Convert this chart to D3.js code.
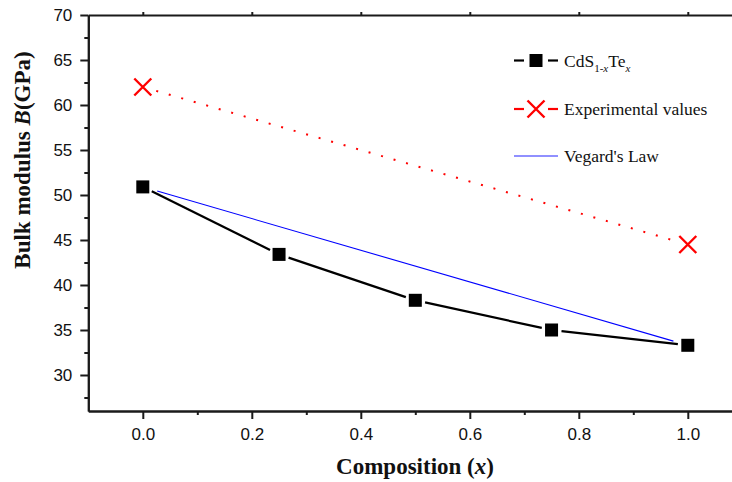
<!DOCTYPE html>
<html>
<head>
<meta charset="utf-8">
<script src="https://cdn.jsdelivr.net/npm/d3@7"></script>
<style>
  html, body { margin: 0; padding: 0; background: #fff; }
  svg { display: block; }
  .tick text { font-family: "Liberation Sans", Arial, sans-serif; font-size: 17px; fill: #111; }
</style>
</head>
<body>
<svg id="chart" width="732" height="482"></svg>
<script>
// Bulk modulus of CdS(1-x)Te(x) versus composition
const composition = [0, 0.25, 0.5, 0.75, 1.0];
const bulkCalc = [50.9, 43.4, 38.3, 35.0, 33.3];
const expComposition = [0, 1.0];
const bulkExp = [62.0, 44.5];
const vegardComposition = [0, 1.0];
const bulkVegard = [50.9, 33.3];
const xTicks = [0, 0.2, 0.4, 0.6, 0.8, 1.0];
const xMinorTicks = [0.1, 0.3, 0.5, 0.7, 0.9];
const yTicks = [30, 35, 40, 45, 50, 55, 60, 65, 70];
const yMinorTicks = [27.5, 32.5, 37.5, 42.5, 47.5, 52.5, 57.5, 62.5, 67.5];

const svg = d3.select("#chart");
const plotLeft = 88.3, plotRight = 742.3, plotTop = 15, plotBottom = 411;

const x = d3.scaleLinear().domain([-0.1, 1.1]).range([plotLeft, plotRight]);
const y = d3.scaleLinear().domain([26, 70]).range([plotBottom, plotTop]);

const axisColor = "#1a1a1a";

function styleAxis(g) {
  g.selectAll("path.domain").attr("stroke", axisColor).attr("stroke-width", 2);
  g.selectAll(".tick line").attr("stroke", axisColor).attr("stroke-width", 2);
}

// bottom axis
const gx = svg.append("g").attr("transform", `translate(0,${plotBottom})`)
  .call(d3.axisBottom(x).tickValues(xTicks).tickSize(8).tickSizeOuter(0)
    .tickPadding(6).tickFormat(d3.format(".1f")));
styleAxis(gx);
gx.selectAll(".tick text").attr("dy", "0.9em");
const gxm = svg.append("g").attr("transform", `translate(0,${plotBottom})`)
  .call(d3.axisBottom(x).tickValues(xMinorTicks).tickSize(4).tickSizeOuter(0).tickFormat(""));
styleAxis(gxm);

// top frame
const gt = svg.append("g").attr("transform", `translate(0,${plotTop})`)
  .call(d3.axisTop(x).tickValues(xTicks).tickSize(3).tickSizeOuter(0).tickFormat(""));
styleAxis(gt);

// left axis
const gy = svg.append("g").attr("transform", `translate(${plotLeft},0)`)
  .call(d3.axisLeft(y).tickValues(yTicks).tickSize(8).tickSizeOuter(0).tickPadding(8));
styleAxis(gy);
const gym = svg.append("g").attr("transform", `translate(${plotLeft},0)`)
  .call(d3.axisLeft(y).tickValues(yMinorTicks).tickSize(4).tickSizeOuter(0).tickFormat(""));
styleAxis(gym);

// trims a segment between two pixel points by a gap at each end
function trimmed(p0, p1, gap) {
  const dx = p1[0] - p0[0], dy = p1[1] - p0[1];
  const len = Math.hypot(dx, dy);
  const ux = dx / len, uy = dy / len;
  return [[p0[0] + ux * gap, p0[1] + uy * gap], [p1[0] - ux * gap, p1[1] - uy * gap]];
}

// Vegard's law
const vp = vegardComposition.map((c, i) => [x(c), y(bulkVegard[i])]);
const vt = trimmed(vp[0], vp[1], 15);
svg.append("line")
  .attr("x1", vt[0][0]).attr("y1", vt[0][1]).attr("x2", vt[1][0]).attr("y2", vt[1][1])
  .attr("stroke", "#0000ff").attr("stroke-width", 1.1);

// experimental values: dotted link
const ep = expComposition.map((c, i) => [x(c), y(bulkExp[i])]);
const et = trimmed(ep[0], ep[1], 14);
svg.append("line")
  .attr("x1", et[0][0]).attr("y1", et[0][1]).attr("x2", et[1][0]).attr("y2", et[1][1])
  .attr("stroke", "#ff0000").attr("stroke-width", 2).attr("stroke-dasharray", "2 11");

// calculated values: segments with gaps around the symbols
const cp = composition.map((c, i) => [x(c), y(bulkCalc[i])]);
for (let i = 0; i < cp.length - 1; i++) {
  const s = trimmed(cp[i], cp[i + 1], 10);
  svg.append("line")
    .attr("x1", s[0][0]).attr("y1", s[0][1]).attr("x2", s[1][0]).attr("y2", s[1][1])
    .attr("stroke", "#000").attr("stroke-width", 2.2);
}
const sq = 13;
svg.selectAll("rect.calc").data(composition).join("rect")
  .attr("class", "calc")
  .attr("x", (d) => x(d) - sq / 2)
  .attr("y", (d, i) => y(bulkCalc[i]) - sq / 2)
  .attr("width", sq).attr("height", sq).attr("fill", "#000");

// experimental symbols
function cross(g, cx, cy, r) {
  g.append("path")
    .attr("d", `M${cx - r},${cy - r}L${cx + r},${cy + r}M${cx - r},${cy + r}L${cx + r},${cy - r}`)
    .attr("stroke", "#ff0000").attr("stroke-width", 2.4).attr("fill", "none");
}
expComposition.forEach((c, i) => cross(svg, x(c), y(bulkExp[i]), 8.5));

// legend
const lg = svg.append("g").attr("font-family", "'Liberation Serif', 'Times New Roman', serif")
  .attr("font-size", 17.5).attr("fill", "#111");
const lx0 = 514, lx1 = 558, lmid = 536, ltext = 564;
const rows = [60.5, 109, 156];

// row 1: calculated
lg.append("line").attr("x1", lx0).attr("x2", lx0 + 10).attr("y1", rows[0]).attr("y2", rows[0])
  .attr("stroke", "#000").attr("stroke-width", 2.2);
lg.append("line").attr("x1", lx1 - 10).attr("x2", lx1).attr("y1", rows[0]).attr("y2", rows[0])
  .attr("stroke", "#000").attr("stroke-width", 2.2);
lg.append("rect").attr("x", lmid - 6.5).attr("y", rows[0] - 6.5).attr("width", 13).attr("height", 13).attr("fill", "#000");
const t1 = lg.append("text").attr("x", ltext).attr("y", rows[0] + 6);
t1.append("tspan").text("CdS");
t1.append("tspan").attr("font-size", 11).attr("dy", 5).text("1-");
t1.append("tspan").attr("font-size", 11).attr("font-style", "italic").text("x");
t1.append("tspan").attr("dy", -5).text("Te");
t1.append("tspan").attr("font-size", 11).attr("font-style", "italic").attr("dy", 5).text("x");

// row 2: experimental
lg.append("line").attr("x1", lx0).attr("x2", lx0 + 10).attr("y1", rows[1]).attr("y2", rows[1])
  .attr("stroke", "#ff0000").attr("stroke-width", 2.2);
lg.append("line").attr("x1", lx1 - 10).attr("x2", lx1).attr("y1", rows[1]).attr("y2", rows[1])
  .attr("stroke", "#ff0000").attr("stroke-width", 2.2);
cross(lg, lmid, rows[1], 8.5);
lg.append("text").attr("x", ltext).attr("y", rows[1] + 6).text("Experimental values");

// row 3: Vegard's law
lg.append("line").attr("x1", lx0).attr("x2", lx1).attr("y1", rows[2]).attr("y2", rows[2])
  .attr("stroke", "#6b6bff").attr("stroke-width", 1.3);
lg.append("text").attr("x", ltext).attr("y", rows[2] + 6).text("Vegard's Law");

// axis titles
const xt = svg.append("text").attr("x", 415).attr("y", 474).attr("text-anchor", "middle")
  .attr("font-family", "'Liberation Serif', 'Times New Roman', serif")
  .attr("font-weight", "bold").attr("font-size", 23).attr("fill", "#111");
xt.append("tspan").text("Composition (");
xt.append("tspan").attr("font-style", "italic").text("x");
xt.append("tspan").text(")");

const yt = svg.append("text").attr("transform", "translate(30,160) rotate(-90)")
  .attr("text-anchor", "middle")
  .attr("font-family", "'Liberation Serif', 'Times New Roman', serif")
  .attr("font-weight", "bold").attr("font-size", 23).attr("fill", "#111");
yt.append("tspan").text("Bulk modulus ");
yt.append("tspan").attr("font-style", "italic").text("B");
yt.append("tspan").text("(GPa)");
</script>
</body>
</html>
